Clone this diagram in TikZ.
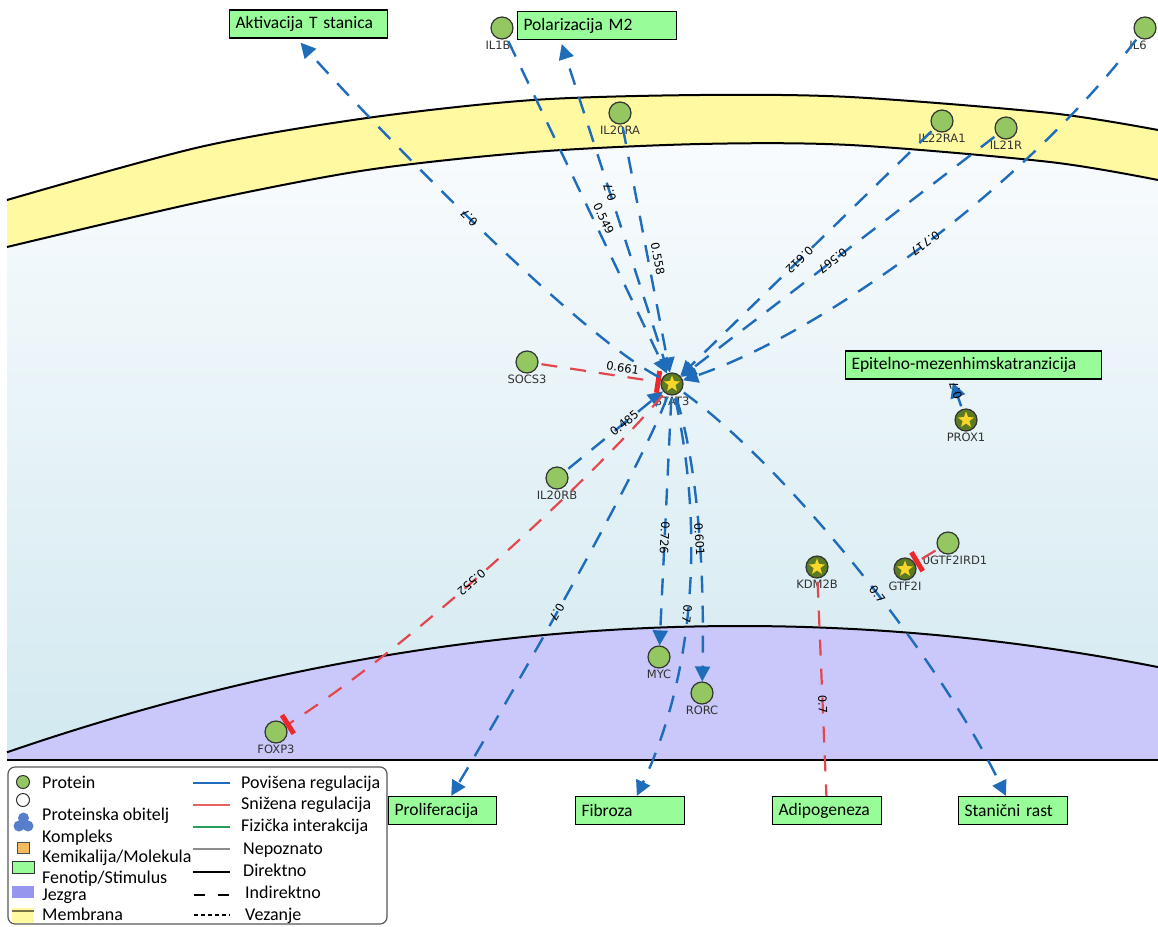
\documentclass[tikz,border=0pt]{standalone}
\usepackage{fontspec}
\setmainfont{Carlito}
\newfontfamily\labelfont{DejaVu Sans}
\usepackage{tikz}
\usetikzlibrary{arrows.meta,calc,positioning,shapes.geometric}

\definecolor{upblue}{RGB}{30,108,186}
\definecolor{downred}{RGB}{228,70,78}
\definecolor{barred}{RGB}{236,40,44}
\definecolor{protgreen}{RGB}{148,198,98}
\definecolor{hubgreen}{RGB}{92,122,34}
\definecolor{staryellow}{RGB}{250,214,40}
\definecolor{phenogreen}{RGB}{152,252,152}
\definecolor{membyellow}{RGB}{255,250,162}
\definecolor{nuclblue}{RGB}{202,200,250}
\definecolor{cytotop}{RGB}{250,252,254}
\definecolor{cytobot}{RGB}{210,233,240}
\definecolor{labelgray}{RGB}{50,50,50}
\definecolor{physgreen}{RGB}{40,160,90}
\definecolor{complexblue}{RGB}{86,126,204}
\definecolor{chemorange}{RGB}{246,186,96}
\definecolor{nucllegend}{RGB}{150,150,238}
\definecolor{lgred}{RGB}{232,96,96}

\tikzset{
  protein/.style={circle, draw=black!80, line width=1.2pt, fill=protgreen, minimum size=22pt, inner sep=0pt},
  hubprot/.style={protein, fill=hubgreen, path picture={\node[star, star points=5, star point ratio=2.4, fill=staryellow, minimum size=17pt, inner sep=0pt] at (path picture bounding box.center) {};}},
  nlabel/.style={font=\labelfont\fontsize{11.5}{12}\selectfont, text=labelgray, inner sep=1pt},
  pheno/.style={rectangle, draw=black, line width=1.3pt, fill=phenogreen, text width=#1, align=left, minimum height=28pt, inner xsep=6pt, font=\fontsize{17.5}{20}\selectfont},
  upreg/.style={upblue, line width=2.4pt, dash pattern=on 17pt off 13pt, shorten <=3pt, -{Triangle[length=15pt,width=15pt]}},
  downreg/.style={downred, line width=2.2pt, dash pattern=on 16pt off 13pt, shorten <=3pt, -{Bar[width=22pt,line width=5pt,color=barred]}},
  wlabel/.style={font=\labelfont\fontsize{11.5}{12}\selectfont, text=black, sloped, allow upside down, inner sep=1pt},
  legtext/.style={font=\fontsize{18}{20}\selectfont, anchor=base west, inner sep=0pt},
  membline/.style={black, line width=2pt}
}

\begin{document}
\begin{tikzpicture}[x=1pt,y=-1pt]
\useasboundingbox (0,0) rectangle (1158,926);
\fill[white] (0,0) rectangle (1158,926);
\shade[top color=cytotop, bottom color=cytobot] (7,120) rectangle (1158,760);
\fill[white] (7,0) -- plot[smooth] coordinates {(7,200) (200,147) (367,118) (533,100) (700,95) (850,97) (1050,113) (1158,130)} -- (1158,0) -- cycle;
\fill[membyellow] plot[smooth] coordinates {(7,200) (200,147) (367,118) (533,100) (700,95) (850,97) (1050,113) (1158,130)}
  -- plot[smooth] coordinates {(1158,180) (1050,162) (850,145) (700,144) (533,152) (367,170) (200,202) (7,247)} -- cycle;
\draw[membline] plot[smooth] coordinates {(7,200) (200,147) (367,118) (533,100) (700,95) (850,97) (1050,113) (1158,130)};
\draw[membline] plot[smooth] coordinates {(7,247) (200,202) (367,170) (533,152) (700,144) (850,145) (1050,162) (1158,180)};
\fill[nuclblue] plot[domain=7:1158, samples=60, smooth] (\x, {626+2.35*((\x-740)/100)^2}) -- (1158,760) -- (7,760) -- cycle;
\draw[membline] plot[domain=7:1158, samples=60, smooth] (\x, {626+2.35*((\x-740)/100)^2});
\draw[membline] (7,760) -- (1158,760);

\node[hubprot, label={[nlabel]below:STAT3}] (stat3) at (672,384) {};
\node[protein, label={[nlabel]below:SOCS3}] (socs3) at (527,362) {};
\node[protein, label={[nlabel]below:IL20RB}] (il20rb) at (557,478) {};
\node[protein, label={[nlabel]below:FOXP3}] (foxp3) at (276,732) {};
\node[protein, label={[nlabel, xshift=-4pt]below:IL1B}] (il1b) at (502,28) {};
\node[protein, label={[nlabel]below:IL20RA}] (il20ra) at (620,113) {};
\node[protein, label={[nlabel]below:IL22RA1}] (il22ra1) at (942,121) {};
\node[protein, label={[nlabel]below:IL21R}] (il21r) at (1006,128) {};
\node[protein, label={[nlabel, xshift=-7pt]below:IL6}] (il6) at (1145,28) {};
\node[hubprot, label={[nlabel]below:PROX1}] (prox1) at (966,420) {};
\node[hubprot, label={[nlabel]below:KDM2B}] (kdm2b) at (817,567) {};
\node[hubprot, label={[nlabel]below:GTF2I}] (gtf2i) at (905,569) {};
\node[protein, label={[nlabel, xshift=7pt]below:0GTF2IRD1}] (gtf2ird1) at (948,543) {};
\node[protein, label={[nlabel]below:MYC}] (myc) at (659,657) {};
\node[protein, label={[nlabel]below:RORC}] (rorc) at (702,693) {};

\node[pheno=146pt] (akt) at (308.5,24) {Aktivacija T stanica};
\node[pheno=147pt] (pol) at (597,25.5) {Polarizacija M2};
\node[pheno=244pt] (emt) at (973.5,365) {Epitelno-mezenhimskatranzicija};
\node[pheno=96pt] (prolif) at (442.5,810.5) {Proliferacija};
\node[pheno=97pt] (fib) at (630,810.5) {Fibroza};
\node[pheno=97pt] (adipo) at (827,810.5) {Adipogeneza};
\node[pheno=97pt] (stan) at (1013,810.5) {Stanični rast};

\coordinate (aktin) at ($(akt.south west)!0.45!(akt.south east)+(0,4)$);
\coordinate (polin) at ($(pol.south west)!0.28!(pol.south east)+(0,4)$);
\coordinate (emtin) at ($(emt.south west)!0.42!(emt.south east)+(0,3)$);

\draw[upreg] (il1b) -- node[wlabel, pos=0.55, above=3pt] {0.549} (stat3);
\draw[upreg] (il20ra) -- node[wlabel, pos=0.55, above=3pt] {0.558} (stat3);
\draw[upreg] (il22ra1) -- node[wlabel, pos=0.53] {0.612} (stat3);
\draw[upreg] (il21r) -- node[wlabel, pos=0.52] {0.567} (stat3);
\draw[upreg] (il6) .. controls (1030,180) and (830,330) .. node[wlabel, pos=0.5] {0.717} (stat3);
\draw[upreg] (il20rb) -- node[wlabel, pos=0.6] {0.485} (stat3);
\draw[downreg] (socs3) -- node[wlabel, pos=0.68, above=2pt] {0.661} (stat3);

\draw[upreg] (stat3) .. controls (570,330) and (360,110) .. node[wlabel, pos=0.5] {0.7} (aktin);
\draw[upreg] (stat3) -- node[wlabel, pos=0.55] {0.7} (polin);
\draw[downreg] (stat3) .. controls (600,470) and (420,640) .. node[wlabel, pos=0.57] {0.552} (foxp3);
\draw[upreg] (stat3) .. controls (640,470) and (520,680) .. node[wlabel, pos=0.57] {0.7} (prolif);
\draw[upreg] (stat3) -- node[wlabel, pos=0.57] {0.726} (myc);
\draw[upreg] (stat3) .. controls (702,520) and (698,665) .. node[wlabel, pos=0.55] {0.7} (fib);
\draw[upreg] (stat3) .. controls (702,480) and (704,600) .. node[wlabel, pos=0.5] {0.601} (rorc);
\draw[upreg] (stat3) .. controls (790,470) and (940,660) .. node[wlabel, pos=0.55] {0.7} (stan);
\draw[downreg, -] (kdm2b) -- node[wlabel, pos=0.58] {0.7} (adipo);
\draw[upreg] (prox1) -- node[wlabel, pos=0.7] {0.7} (emtin);
\draw[downreg] (gtf2ird1) -- (gtf2i);

\draw[draw=black!65, line width=1.2pt, rounded corners=7pt, fill=white] (8,767) rectangle (387,924);
\node[circle, draw=black!80, line width=1pt, fill=protgreen, minimum size=13pt, inner sep=0pt] (lgprot) at (23,782) {};
\node[circle, draw=black!80, line width=1pt, fill=white, minimum size=13pt, inner sep=0pt] (lgfam) at (23,800) {};
\fill[complexblue] (19,826) circle[radius=5.5pt] (28,826) circle[radius=5.5pt] (23.5,818) circle[radius=5.5pt];
\draw[black!70, line width=1pt, fill=chemorange] (17,842) rectangle (29,853);
\draw[black!80, line width=1pt, fill=phenogreen] (12,861) rectangle (34,873);
\fill[nucllegend] (12,886) rectangle (34,898);
\fill[membyellow] (12,908) rectangle (34,923);
\draw[black!60!yellow, line width=1.2pt] (12,911) -- (34,911);
\node[legtext] (lgprottxt) at (42,788) {Protein};
\node[legtext] (lgfamtxt) at (42,820) {Proteinska obitelj};
\node[legtext] (lgcomtxt) at (42,842) {Kompleks};
\node[legtext] (lgchemtxt) at (42,862) {Kemikalija/Molekula};
\node[legtext] (lgphentxt) at (42,883) {Fenotip/Stimulus};
\node[legtext] (lgnuctxt) at (42,900) {Jezgra};
\node[legtext] (lgmemtxt) at (42,920) {Membrana};

\draw[upblue, line width=2.6pt] (193,783) -- (230,783);
\draw[lgred, line width=2.6pt] (193,805) -- (230,805);
\draw[physgreen, line width=2.6pt] (193,827) -- (230,827);
\draw[black!45, line width=2.6pt] (193,849) -- (230,849);
\draw[black, line width=2.6pt] (193,872) -- (230,872);
\draw[black, line width=2.6pt, dash pattern=on 11pt off 13pt] (194,895) -- (230,895);
\draw[black, line width=2pt, dash pattern=on 4pt off 3pt] (194,915) -- (230,915);
\node[legtext] (lguptxt) at (241,788) {Povišena regulacija};
\node[legtext] (lgdowntxt) at (241,809) {Snižena regulacija};
\node[legtext] (lgphystxt) at (241,831) {Fizička interakcija};
\node[legtext] (lgunktxt) at (243,854) {Nepoznato};
\node[legtext] (lgdirtxt) at (243,876) {Direktno};
\node[legtext] (lgindtxt) at (245,898) {Indirektno};
\node[legtext] (lgbindtxt) at (245,920) {Vezanje};
\end{tikzpicture}
\end{document}
